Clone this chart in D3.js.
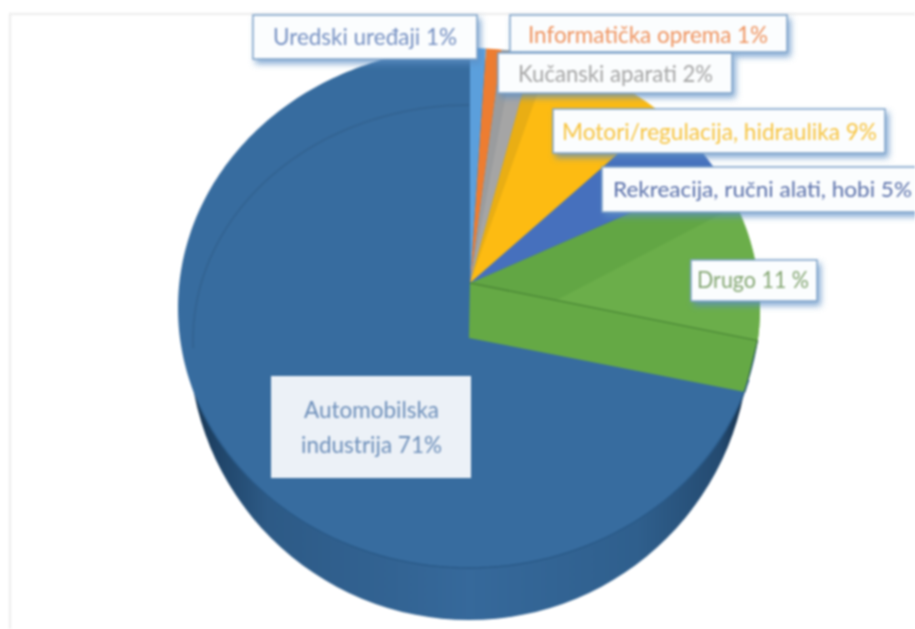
<!DOCTYPE html>
<html>

<head>
  <meta charset="UTF-8" />
  <title>Pie</title>
  <script src="https://d3js.org/d3.v7.min.js"></script>
  <style>
    html, body { margin: 0; padding: 0; background: #fff; overflow: hidden; }
    svg { display: block; filter: blur(0.8px); }
    text { font-family: Lato, "Open Sans", sans-serif; }
  </style>
</head>

<body>
  <div id="chart"></div>

  <script>
    // chart values
    const categories = ["Uredski uređaji", "Informatička oprema", "Kučanski aparati",
      "Motori/regulacija, hidraulika", "Rekreacija, ručni alati, hobi", "Drugo", "Automobilska industrija"];
    const shares = [1, 1, 2, 9, 5, 11, 71];
    const labelTexts = [["Uredski uređaji 1%"], ["Informatička oprema 1%"], ["Kučanski aparati 2%"],
      ["Motori/regulacija, hidraulika 9%"], ["Rekreacija, ručni alati, hobi 5%"], ["Drugo 11 %"],
      ["Automobilska", "industrija 71%"]];

    // styles and layout, same order as categories
    const sliceColors = ["#5b9fdc", "#ed7d31", "#a5a5a5", "#fdbb12", "#4670bd", "#62a644", "#376c9f"];
    const textColors = ["#7590c2", "#ef9460", "#a5a5a5", "#f7c440", "#5a70aa", "#84a672", "#6d8fba"];
    const labelBoxes = [
      [253, 15, 224, 44], [510, 15, 277, 37], [498, 53, 234, 40],
      [553, 109, 332, 44], [602, 167, 330, 45], [691, 260, 126, 41], [271, 376, 200, 102]
    ];
    const textCenters = [365, 648, 615.5, 719.5, 762.5, 753, 371.5];
    const textBaselines = [[45], [43], [82], [140], [197], [288], [418, 453]];
    const textWidths = [[184], [240], [195], [315], [299], [112], [135, 141]];
    const textSizes = [23, 23, 23, 23, 21, 23, 23];

    const width = 915, height = 629;
    const apex = { x: 470, y: 283 };
    const rim = { cx: 469, cy: 308, rx: 291, ry: 260 };
    const base = { cx: 469, cy: 340, r: 280 };

    const svg = d3.select("#chart").append("svg")
      .attr("width", width)
      .attr("height", height);

    const defs = svg.append("defs");

    const sideGrad = defs.append("linearGradient").attr("id", "side");
    [[0, "#173450"], [0.05, "#1f4468"], [0.14, "#2d5a86"], [0.5, "#36699b"], [0.8, "#2f5f8d"], [0.95, "#244a70"], [1, "#122a42"]]
      .forEach(s => sideGrad.append("stop").attr("offset", s[0]).attr("stop-color", s[1]));

    const shadow = defs.append("filter").attr("id", "boxshadow")
      .attr("x", "-10%").attr("y", "-30%").attr("width", "125%").attr("height", "170%");
    shadow.append("feDropShadow").attr("dx", 3).attr("dy", 4).attr("stdDeviation", 3)
      .attr("flood-color", "#5b8fc4").attr("flood-opacity", 0.75);

    // faint frame of the pasted picture
    svg.append("path")
      .attr("d", "M10,629V14H915")
      .attr("fill", "none")
      .attr("stroke", "#efefef")
      .attr("stroke-width", 2.5);

    // pie angles, clockwise from the top
    const pie = d3.pie().sort(null).startAngle(0).endAngle(2 * Math.PI);
    const arcs = pie(shares);

    // where a pie angle meets the top rim, going out from the off centre apex
    function rimPoint(a) {
      // the far half is squashed less than the near half in this perspective
      const k = a > Math.PI / 2 && a < Math.PI ? 0.78 : 0.93;
      const dx = Math.sin(a), dy = -k * Math.cos(a);
      const ox = (apex.x - rim.cx) / rim.rx, oy = (apex.y - rim.cy) / rim.ry;
      const ux = dx / rim.rx, uy = dy / rim.ry;
      const A = ux * ux + uy * uy, B = 2 * (ox * ux + oy * uy), C = ox * ox + oy * oy - 1;
      const t = (-B + Math.sqrt(B * B - 4 * A * C)) / (2 * A);
      return [apex.x + t * dx, apex.y + t * dy];
    }

    const line = d3.line();
    const apexPt = [apex.x, apex.y];

    function rimRun(a0, a1) {
      const n = Math.max(2, Math.ceil((a1 - a0) / 0.02));
      return d3.range(n + 1).map(i => rimPoint(a0 + (a1 - a0) * i / n));
    }

    // side wall, a narrower circle lower down
    svg.append("path")
      .attr("transform", `translate(${base.cx},${base.cy})`)
      .attr("d", d3.arc().innerRadius(0).outerRadius(base.r)({ startAngle: 0, endAngle: 2 * Math.PI }))
      .attr("fill", "url(#side)");

    // top faces, big slice first so the thin ones stay on top
    svg.selectAll("path.slice")
      .data(arcs.slice().reverse())
      .enter()
      .append("path")
      .attr("class", "slice")
      .attr("d", d => line([apexPt].concat(rimRun(d.startAngle, d.endAngle))) + "Z")
      .attr("fill", d => sliceColors[d.index]);

    const green = arcs[5], yellow = arcs[3], gray = arcs[2];
    const greenEnd = rimPoint(green.endAngle);
    const lerp = (p, q, t) => [p[0] + (q[0] - p[0]) * t, p[1] + (q[1] - p[1]) * t];

    // lighter facet on the green slice
    const facetFrom = green.startAngle + (green.endAngle - green.startAngle) * 0.2;
    svg.append("path")
      .attr("d", line([lerp(apexPt, greenEnd, 0.3)].concat(rimRun(facetFrom, green.endAngle))) + "Z")
      .attr("fill", "#6bae4a");

    // darker band on the yellow slice and its left edge
    svg.append("path")
      .attr("d", line([apexPt].concat(rimRun(yellow.startAngle, yellow.startAngle + (yellow.endAngle - yellow.startAngle) * 0.12))) + "Z")
      .attr("fill", "#e9ae14");
    svg.append("path")
      .attr("d", line([apexPt].concat(rimRun(gray.startAngle, gray.startAngle + (gray.endAngle - gray.startAngle) * 0.4))) + "Z")
      .attr("fill", "#9a9c9e");

    // cut face of the big slice, seen through the gap
    const wall = [apexPt, greenEnd, [745, 392], [469, 338]];
    svg.append("path")
      .attr("d", line(wall) + "Z")
      .attr("fill", "#65a945");
    svg.append("path")
      .attr("d", line([apexPt, greenEnd]))
      .attr("fill", "none")
      .attr("stroke", "#4d8a37")
      .attr("stroke-width", 1.5);
    svg.append("path")
      .attr("d", line([greenEnd, [745, 392]]))
      .attr("fill", "none")
      .attr("stroke", "#2f5d47")
      .attr("stroke-width", 1);

    // front edge of the top face
    const frontEdge = d3.range(106, 250, 2).map(deg => {
      const a = deg * Math.PI / 180;
      return [rim.cx + rim.rx * Math.sin(a), rim.cy - rim.ry * Math.cos(a)];
    });
    svg.append("path")
      .attr("d", line(frontEdge))
      .attr("fill", "none")
      .attr("stroke", "#2a5a88")
      .attr("stroke-width", 1.5);

    // faint inner arc on the upper left of the big slice
    const innerArc = d3.range(268, 361, 2).map(deg => {
      const a = deg * Math.PI / 180;
      return [469 + 276 * Math.sin(a), 340 - 235 * Math.cos(a)];
    });
    svg.append("path")
      .attr("d", line(innerArc))
      .attr("fill", "none")
      .attr("stroke", "#33628f")
      .attr("stroke-opacity", 0.75)
      .attr("stroke-width", 2);

    // labels
    const labels = svg.selectAll("g.label")
      .data(categories)
      .enter()
      .append("g")
      .attr("class", "label");

    labels.append("rect")
      .attr("x", (d, i) => labelBoxes[i][0])
      .attr("y", (d, i) => labelBoxes[i][1])
      .attr("width", (d, i) => labelBoxes[i][2])
      .attr("height", (d, i) => labelBoxes[i][3])
      .attr("fill", (d, i) => i === 6 ? "#ecf1f7" : "#fbfdfe")
      .attr("stroke", (d, i) => i === 6 ? "none" : "#7fa3c9")
      .attr("stroke-width", 1.5)
      .attr("filter", (d, i) => i === 6 ? null : "url(#boxshadow)");

    labels.each(function (d, i) {
      labelTexts[i].forEach((t, j) => {
        d3.select(this).append("text")
          .attr("x", textCenters[i])
          .attr("y", textBaselines[i][j])
          .attr("text-anchor", "middle")
          .attr("font-size", textSizes[i])
          .attr("fill", textColors[i])
          .attr("textLength", textWidths[i][j])
          .attr("lengthAdjust", "spacingAndGlyphs")
          .text(t);
      });
    });
  </script>
</body>

</html>
